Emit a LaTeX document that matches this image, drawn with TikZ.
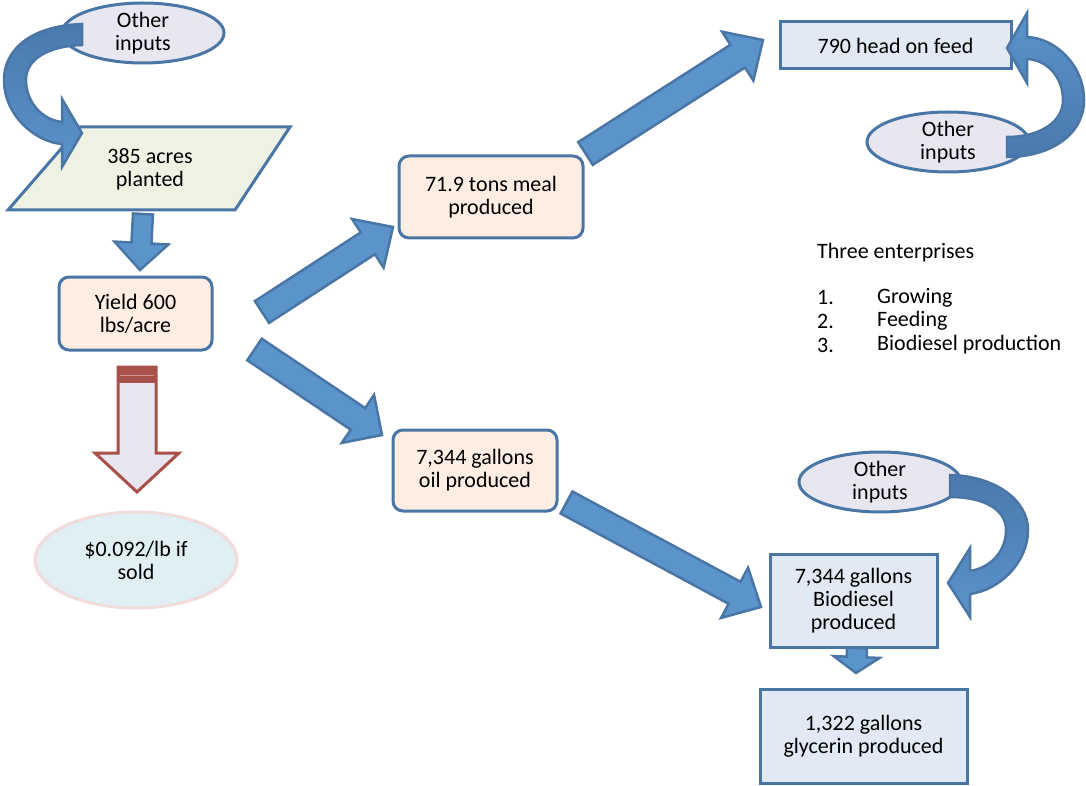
\documentclass[tikz,border=0pt]{standalone}
\usepackage{fontspec}
\setmainfont{Carlito}
\usepackage{xcolor}
\usetikzlibrary{calc,shapes.geometric}
\definecolor{bdblue}{HTML}{4A76A6}
\definecolor{arrblue}{HTML}{5B93CB}
\definecolor{darkarr}{HTML}{4A79AE}
\definecolor{lavfill}{HTML}{E8E6F0}
\definecolor{greenfill}{HTML}{EEF2E3}
\definecolor{peachfill}{HTML}{FDEDE2}
\definecolor{bluefill}{HTML}{E0E9F4}
\definecolor{aquafill}{HTML}{DFEFF4}
\definecolor{pinkline}{HTML}{F2DCDB}
\definecolor{redline}{HTML}{A8504A}
\tikzset{
  txt/.style={font=\fontsize{22}{23}\selectfont,align=center,inner sep=0pt},
  roundbox/.style={txt,draw=bdblue,line width=3pt,rounded corners=10pt,fill=peachfill},
  squarebox/.style={txt,draw=bdblue,line width=3pt,fill=bluefill},
  inputell/.style={txt,ellipse,draw=bdblue,line width=3pt,fill=lavfill,minimum width=162pt,minimum height=60pt},
  soldell/.style={txt,ellipse,draw=pinkline,line width=3pt,fill=aquafill,minimum width=202pt,minimum height=96pt},
  flowarr/.style={draw=bdblue,fill=arrblue,line width=2.5pt,line join=miter},
  bendarr/.style={draw=bdblue,line width=2.5pt,top color=darkarr,bottom color=arrblue},
  listtxt/.style={font=\fontsize{22}{23}\selectfont,anchor=west,inner sep=0pt},
}
% block arrow: [style]{tail}{tip}{half shaft}{half head}{head length}
\newcommand{\blockarr}[6][flowarr]{%
  \coordinate (hb) at ($(#3)!#6!(#2)$);
  \draw[#1] ($(#2)!#4!90:(#3)$) -- ($(hb)!#4!90:(#3)$) -- ($(hb)!#5!90:(#3)$) -- (#3)
    -- ($(hb)!#5!-90:(#3)$) -- ($(hb)!#4!-90:(#3)$) -- ($(#2)!#4!-90:(#3)$) -- cycle;
}

\begin{document}
\begin{tikzpicture}[x=1pt,y=-1pt]
  \useasboundingbox (0,0) rectangle (1086,786);

  % growing
  \node[inputell] (nInTL) at (143,33) {Other\\inputs};
  \draw[bdblue,line width=3pt,fill=greenfill,line join=miter] (80,127) -- (290,127) -- (235,210) -- (8,210) -- cycle;
  \node[txt] (nAcres) at (150,169.5) {385 acres\\planted};
  \node[roundbox,minimum width=153pt,minimum height=73pt] (nYield) at (135.5,313.5) {Yield 600\\lbs/acre};
  \node[soldell] (nSold) at (136,560) {\$0.092/lb if\\sold};

  % meal and oil
  \node[roundbox,minimum width=184pt,minimum height=82pt] (nMeal) at (491,197) {71.9 tons meal\\produced};
  \node[roundbox,minimum width=164pt,minimum height=81pt] (nOil) at (475,470.5) {7,344 gallons\\oil produced};

  % feeding
  \node[squarebox,minimum width=231pt,minimum height=47pt] (nFeed) at (895.5,45.5) {790 head on feed};
  \node[inputell] (nInTR) at (948,142) {Other\\inputs};

  % biodiesel
  \node[inputell] (nInBR) at (880,482) {Other\\inputs};
  \node[squarebox,minimum width=167pt,minimum height=93pt] (nBio) at (853.5,600.5) {7,344 gallons\\Biodiesel\\produced};
  \node[squarebox,minimum width=207pt,minimum height=94pt] (nGly) at (863.5,736) {1,322 gallons\\glycerin produced};

  % list
  \node[listtxt] (nHead) at (817,253) {Three enterprises};
  \node[listtxt] (nNum1) at (817,298) {1.};
  \node[listtxt] (nItem1) at (877,298) {Growing};
  \node[listtxt] (nNum2) at (817,321) {2.};
  \node[listtxt] (nItem2) at (877,321) {Feeding};
  \node[listtxt] (nNum3) at (817,345) {3.};
  \node[listtxt] (nItem3) at (877,345) {Biodiesel production};

  % straight arrows
  \coordinate (tAcres) at (143,214);
  \coordinate (pYield) at (140,270);
  \coordinate (tMeal) at (262,312);
  \coordinate (pMeal) at (393,227);
  \coordinate (tOil) at (254.5,349.5);
  \coordinate (pOil) at (382,435);
  \coordinate (tFeed) at (585.5,153.5);
  \coordinate (pFeed) at (763,40);
  \coordinate (tBio) at (566.5,502.5);
  \coordinate (pBio) at (761,607);
  \coordinate (tGly) at (857,648);
  \coordinate (pGly) at (856,673);
  \blockarr{tAcres}{pYield}{10pt}{27pt}{27pt}
  \blockarr{tMeal}{pMeal}{13pt}{29pt}{30pt}
  \blockarr{tOil}{pOil}{13pt}{29pt}{29pt}
  \blockarr{tFeed}{pFeed}{13.5pt}{29pt}{30pt}
  \blockarr{tBio}{pBio}{12.5pt}{28.5pt}{30pt}
  \blockarr{tGly}{pGly}{10pt}{23pt}{16pt}

  % sold arrow
  \draw[redline,line width=3pt,fill=lavfill,line join=miter] (118,367) -- (156,367) -- (156,453) -- (179,453)
    -- (137,492) -- (95,453) -- (118,453) -- cycle;
  \fill[redline] (118,367) rectangle (156,383);
  \draw[redline!60,line width=1pt] (120,375) -- (154,375);

  % other inputs arrows
  \draw[bendarr] (82,24) .. controls (30,26) and (4,50) .. (4,80) .. controls (4,115) and (35,142) .. (62,144)
    -- (62,167) -- (82,133) -- (62,99) -- (62,122)
    .. controls (42,120) and (26,102) .. (26,80) .. controls (26,58) and (50,46) .. (82,45) -- cycle;
  \draw[bendarr,top color=arrblue,bottom color=darkarr] (1007,157) .. controls (1050,157) and (1084,135) .. (1084,100)
    .. controls (1084,65) and (1055,38) .. (1027,37)
    -- (1027,13) -- (1007,48) -- (1027,83) -- (1027,59)
    .. controls (1048,60) and (1063,78) .. (1063,100) .. controls (1063,122) and (1040,137) .. (1007,137) -- cycle;
  \draw[bendarr] (950,475) .. controls (995,476) and (1028,500) .. (1028,530)
    .. controls (1028,562) and (1000,590) .. (970,594)
    -- (970,617) -- (948,583) -- (970,548) -- (970,571)
    .. controls (990,568) and (1006,552) .. (1006,530) .. controls (1006,510) and (985,497) .. (950,497) -- cycle;
\end{tikzpicture}
\end{document}
